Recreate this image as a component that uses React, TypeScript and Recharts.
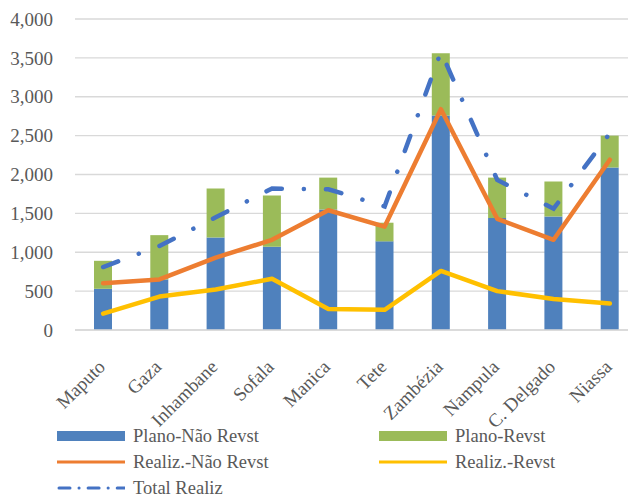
import {
  ComposedChart,
  Bar,
  Line,
  XAxis,
  YAxis,
  CartesianGrid,
} from "recharts";

// Provinces on the category axis
const provinces = [
  "Maputo",
  "Gaza",
  "Inhambane",
  "Sofala",
  "Manica",
  "Tete",
  "Zambézia",
  "Nampula",
  "C. Delgado",
  "Niassa",
];

// Planned (stacked bars)
const planoNaoRevst = [530, 650, 1190, 1070, 1550, 1140, 2760, 1440, 1460, 2090];
const planoRevst = [360, 570, 630, 660, 410, 240, 800, 520, 450, 410];

// Achieved (lines)
const realizNaoRevst = [600, 650, 930, 1160, 1540, 1330, 2840, 1430, 1160, 2190];
const realizRevst = [210, 430, 520, 660, 270, 260, 760, 500, 400, 340];
const totalRealiz = [810, 1080, 1450, 1820, 1810, 1590, 3580, 1930, 1560, 2530];

const yTicks = [0, 500, 1000, 1500, 2000, 2500, 3000, 3500, 4000];

const data = provinces.map((name, i) => ({
  name,
  planoNaoRevst: planoNaoRevst[i],
  planoRevst: planoRevst[i],
  realizNaoRevst: realizNaoRevst[i],
  realizRevst: realizRevst[i],
  totalRealiz: totalRealiz[i],
}));

const FONT = '"Liberation Serif", "Times New Roman", serif';
const TEXT = "#595959";
const GRID = "#d9d9d9";

const BLUE = "#4f81bd";
const GREEN = "#9bbb59";
const ORANGE = "#ed7d31";
const YELLOW = "#ffc000";
const DASH_BLUE = "#4472c4";

// Rotated category labels, anchored at their end just below the axis
function ProvinceTick({ x, y, payload }: any) {
  const ax = x + 3;
  const ay = y + 30;
  return (
    <text
      x={ax}
      y={ay}
      textAnchor="end"
      transform={`rotate(-45, ${ax}, ${ay})`}
      fontFamily={FONT}
      fontSize={19}
      fill={TEXT}
    >
      {payload.value}
    </text>
  );
}

type LegendItem = {
  label: string;
  kind: "bar" | "line" | "dash";
  color: string;
  left: number;
  top: number;
};

const legendItems: LegendItem[] = [
  { label: "Plano-Não Revst", kind: "bar", color: BLUE, left: 57, top: 436 },
  { label: "Plano-Revst", kind: "bar", color: GREEN, left: 379, top: 436 },
  { label: "Realiz.-Não Revst", kind: "line", color: ORANGE, left: 57, top: 462 },
  { label: "Realiz.-Revst", kind: "line", color: YELLOW, left: 379, top: 462 },
  { label: "Total Realiz", kind: "dash", color: DASH_BLUE, left: 57, top: 488 },
];

function Swatch({ kind, color }: { kind: LegendItem["kind"]; color: string }) {
  return (
    <svg width={68} height={12} style={{ display: "block" }}>
      {kind === "bar" && <rect x={0} y={1} width={68} height={10} fill={color} />}
      {kind === "line" && (
        <line x1={0} y1={6} x2={68} y2={6} stroke={color} strokeWidth={3} />
      )}
      {kind === "dash" && (
        <line
          x1={2}
          y1={6}
          x2={68}
          y2={6}
          stroke={color}
          strokeWidth={3}
          strokeLinecap="round"
          strokeDasharray="11 9 0.1 9"
        />
      )}
    </svg>
  );
}

export default function App() {
  return (
    <div
      style={{
        position: "absolute",
        left: 0,
        top: 0,
        width: 628,
        height: 497,
        overflow: "hidden",
        background: "#fff",
      }}
    >
      <ComposedChart
        width={640}
        height={497}
        data={data}
        margin={{ top: 19, right: 2, bottom: 0, left: 0 }}
      >
        <CartesianGrid vertical={false} stroke={GRID} strokeWidth={1.3} />
        <YAxis
          width={75}
          domain={[0, 4000]}
          ticks={yTicks}
          interval={0}
          axisLine={false}
          tickLine={false}
          tickSize={0}
          tickMargin={22}
          tickFormatter={(v: number) => v.toLocaleString("en-US")}
          tick={{ fontFamily: FONT, fontSize: 19, fill: TEXT }}
        />
        <XAxis
          dataKey="name"
          height={167}
          interval={0}
          axisLine={{ stroke: GRID, strokeWidth: 1.3 }}
          tickLine={false}
          tick={<ProvinceTick />}
        />
        <Bar
          dataKey="planoNaoRevst"
          stackId="plano"
          fill={BLUE}
          barSize={18}
          isAnimationActive={false}
        />
        <Bar
          dataKey="planoRevst"
          stackId="plano"
          fill={GREEN}
          barSize={18}
          isAnimationActive={false}
        />
        <Line
          type="linear"
          dataKey="realizNaoRevst"
          stroke={ORANGE}
          strokeWidth={4.5}
          strokeLinejoin="round"
          strokeLinecap="round"
          dot={false}
          activeDot={false}
          isAnimationActive={false}
        />
        <Line
          type="linear"
          dataKey="realizRevst"
          stroke={YELLOW}
          strokeWidth={4.5}
          strokeLinejoin="round"
          strokeLinecap="round"
          dot={false}
          activeDot={false}
          isAnimationActive={false}
        />
        <Line
          type="linear"
          dataKey="totalRealiz"
          stroke={DASH_BLUE}
          strokeWidth={4.5}
          strokeLinecap="round"
          strokeDasharray="16 22 0.1 22"
          dot={false}
          activeDot={false}
          isAnimationActive={false}
        />
      </ComposedChart>

      {legendItems.map((item) => (
        <div
          key={item.label}
          style={{
            position: "absolute",
            left: item.left,
            top: item.top - 13,
            height: 26,
            display: "flex",
            alignItems: "center",
            gap: 8,
            fontFamily: FONT,
            fontSize: 18.5,
            color: TEXT,
            whiteSpace: "nowrap",
          }}
        >
          <Swatch kind={item.kind} color={item.color} />
          <span>{item.label}</span>
        </div>
      ))}
    </div>
  );
}
